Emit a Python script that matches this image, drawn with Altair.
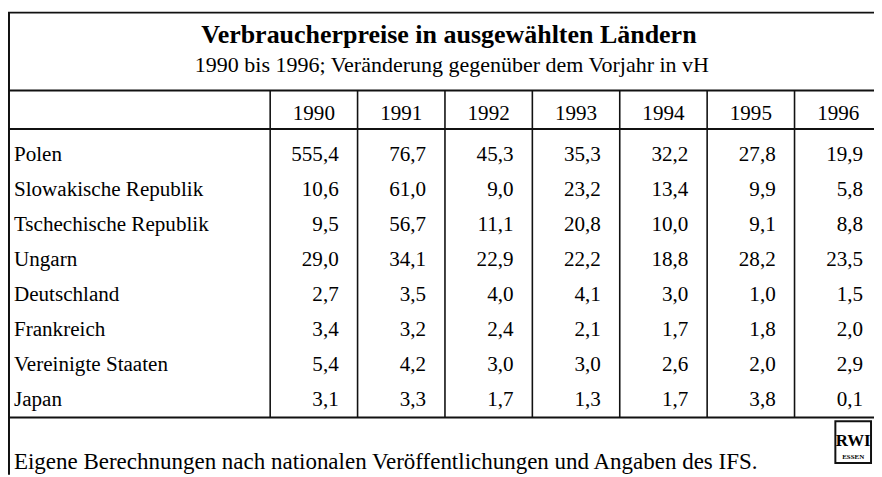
import altair as alt
import pandas as pd

# ---------------- data ----------------
countries = ["Polen", "Slowakische Republik", "Tschechische Republik", "Ungarn",
             "Deutschland", "Frankreich", "Vereinigte Staaten", "Japan"]
years = ["1990", "1991", "1992", "1993", "1994", "1995", "1996"]
polen = [555.4, 76.7, 45.3, 35.3, 32.2, 27.8, 19.9]
slowakei = [10.6, 61.0, 9.0, 23.2, 13.4, 9.9, 5.8]
tschechien = [9.5, 56.7, 11.1, 20.8, 10.0, 9.1, 8.8]
ungarn = [29.0, 34.1, 22.9, 22.2, 18.8, 28.2, 23.5]
deutschland = [2.7, 3.5, 4.0, 4.1, 3.0, 1.0, 1.5]
frankreich = [3.4, 3.2, 2.4, 2.1, 1.7, 1.8, 2.0]
usa = [5.4, 4.2, 3.0, 3.0, 2.6, 2.0, 2.9]
japan = [3.1, 3.3, 1.7, 1.3, 1.7, 3.8, 0.1]
series = [polen, slowakei, tschechien, ungarn, deutschland, frankreich, usa, japan]

title_text = "Verbraucherpreise in ausgewählten Ländern"
subtitle_text = "1990 bis 1996; Veränderung gegenüber dem Vorjahr in vH"
source_text = "Eigene Berechnungen nach nationalen Veröffentlichungen und Angaben des IFS."

# ---------------- layout ----------------
W, H = 874, 469
COL = 88.2          # px per column unit
LABEL_UNITS = 3     # label column is 3 units wide
PITCH = 35.3        # row pitch in px
FIRST = 152.0       # baseline of first data row (chart px)
FONT = "Liberation Serif"
FS = 21.3

x_scale = alt.Scale(domain=[0, W / COL], range=[0, W], nice=False, zero=False)
y_scale = alt.Scale(domain=[-FIRST / PITCH, (H - FIRST) / PITCH], range=[0, H],
                    nice=False, zero=False)

cells = []
for i, vals in enumerate(series):
    for j, v in enumerate(vals):
        cells.append({"country": countries[i], "row": i, "year": years[j],
                      "right": LABEL_UNITS + j + 1,
                      "label": f"{v:.1f}".replace(".", ",")})
cells_df = pd.DataFrame(cells)
labels_df = pd.DataFrame({"country": countries, "row": list(range(len(countries))),
                          "x": [0] * len(countries)})
header_df = pd.DataFrame({"year": years,
                          "center": [LABEL_UNITS + j + 0.5 for j in range(len(years))]})
div_df = pd.DataFrame({"b": [LABEL_UNITS + j for j in range(len(years))]})

LINE_TOP, LINE_SUB, LINE_HEAD, LINE_BOT = 2.5, 81, 120, 411
hlines_df = pd.DataFrame({"ypx": [LINE_TOP, LINE_SUB, LINE_HEAD, LINE_BOT]})

hlines = alt.Chart(hlines_df).mark_rule(color="#111", strokeWidth=2).encode(
    y=alt.Y("ypx:Q", scale=None), x=alt.value(0), x2=alt.value(W))

left_border = alt.Chart(pd.DataFrame({"a": [0]})).mark_rule(color="#111", strokeWidth=2).encode(
    x=alt.value(1), y=alt.value(LINE_TOP), y2=alt.value(H))

dividers = alt.Chart(div_df).mark_rule(color="#111", strokeWidth=1.6).encode(
    x=alt.X("b:Q", scale=x_scale, axis=None),
    y=alt.value(LINE_SUB), y2=alt.value(LINE_BOT))

title = alt.Chart(pd.DataFrame({"t": [title_text]})).mark_text(
    font=FONT, fontSize=26.2, fontWeight="bold", align="center", baseline="alphabetic",
    color="black").encode(text="t:N", x=alt.value(445), y=alt.value(33))

subtitle = alt.Chart(pd.DataFrame({"t": [subtitle_text]})).mark_text(
    font=FONT, fontSize=22.2, align="center", baseline="alphabetic",
    color="black").encode(text="t:N", x=alt.value(448), y=alt.value(62))

header = alt.Chart(header_df).mark_text(
    font=FONT, fontSize=FS, align="center", baseline="alphabetic", color="black").encode(
    x=alt.X("center:Q", scale=x_scale, axis=None), y=alt.value(111), text="year:N")

row_labels = alt.Chart(labels_df).mark_text(
    font=FONT, fontSize=FS, align="left", baseline="alphabetic", dx=6, color="black").encode(
    x=alt.X("x:Q", scale=x_scale, axis=None),
    y=alt.Y("row:Q", scale=y_scale, axis=None),
    text="country:N")

values = alt.Chart(cells_df).mark_text(
    font=FONT, fontSize=FS, align="right", baseline="alphabetic", dx=-19, color="black").encode(
    x=alt.X("right:Q", scale=x_scale, axis=None),
    y=alt.Y("row:Q", scale=y_scale, axis=None),
    text="label:N")

source = alt.Chart(pd.DataFrame({"t": [source_text]})).mark_text(
    font=FONT, fontSize=23.2, align="left", baseline="alphabetic", color="black").encode(
    text="t:N", x=alt.value(6), y=alt.value(463))

logo_box = alt.Chart(pd.DataFrame({"a": [0]})).mark_rect(
    filled=False, stroke="#111", strokeWidth=2).encode(
    x=alt.value(835), x2=alt.value(871), y=alt.value(415), y2=alt.value(457))
logo_rwi = alt.Chart(pd.DataFrame({"t": ["RWI"]})).mark_text(
    font=FONT, fontSize=17, fontWeight="bold", align="center", baseline="alphabetic",
    color="black").encode(text="t:N", x=alt.value(853), y=alt.value(440))
logo_essen = alt.Chart(pd.DataFrame({"t": ["ESSEN"]})).mark_text(
    font=FONT, fontSize=7, fontWeight="bold", align="center", baseline="alphabetic",
    color="black").encode(text="t:N", x=alt.value(853), y=alt.value(453))

chart = alt.layer(
    hlines, left_border, dividers, title, subtitle, header, row_labels, values,
    source, logo_box, logo_rwi, logo_essen
).properties(
    width=W, height=H, padding=0,
    autosize=alt.AutoSizeParams(type="none"),
    background="white"
).configure_view(stroke=None)

chart.save("out.html", embed_options={"renderer": "svg", "actions": False})
